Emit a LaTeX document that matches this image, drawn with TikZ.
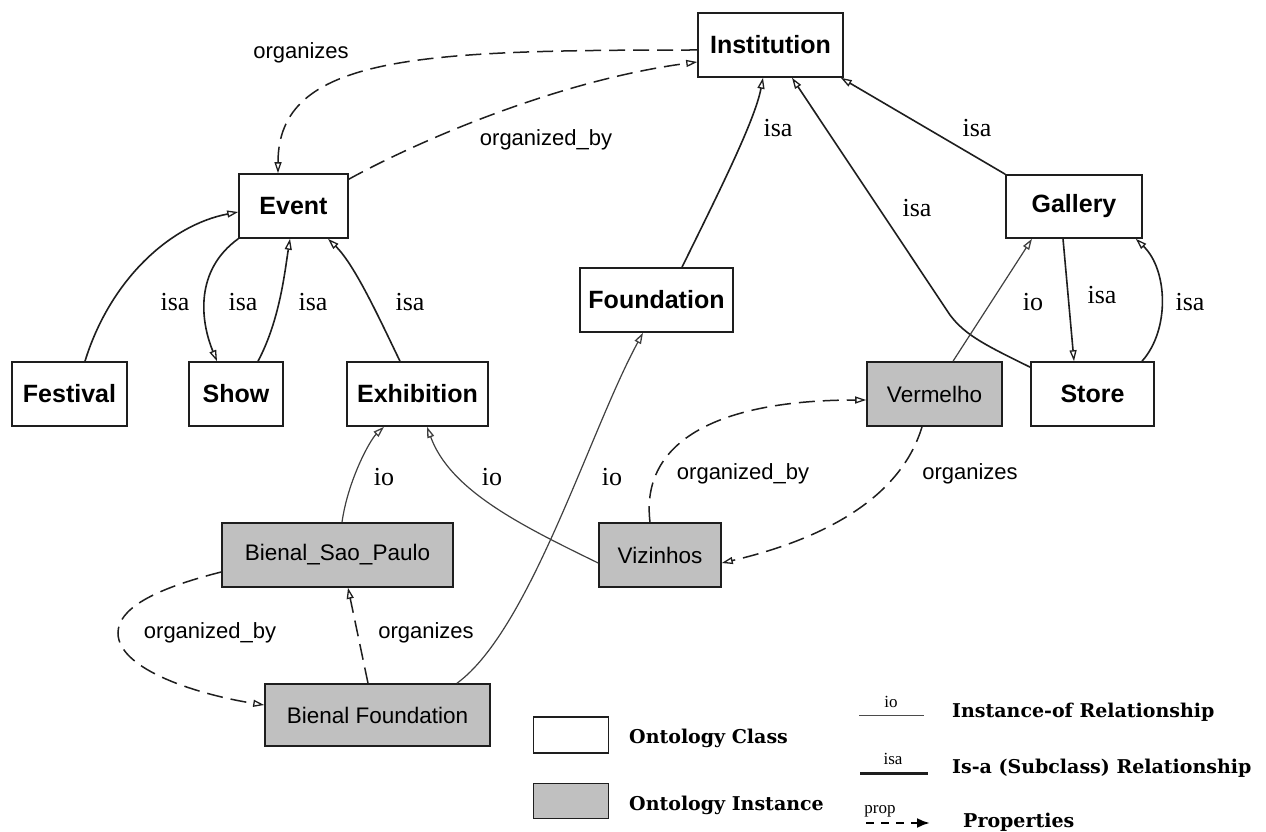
\documentclass[tikz,border=0pt]{standalone}
\usepackage{fontspec}
\setmainfont{Liberation Sans}
\newfontfamily\relfont{Liberation Serif}
\newfontfamily\legfont{DejaVu Serif}
\usetikzlibrary{arrows.meta}
\definecolor{instgray}{RGB}{192,192,192}
\definecolor{lineblack}{RGB}{30,30,30}
\tikzset{
  cls/.style={draw=lineblack, line width=1.6pt, fill=white, inner sep=0pt,
    font=\fontsize{25}{30}\selectfont\bfseries},
  inst/.style={draw=lineblack, line width=1.6pt, fill=instgray, inner sep=0pt,
    font=\fontsize{22.5}{27}\selectfont},
  rel/.style={font=\relfont\fontsize{26}{30}\selectfont, inner sep=1pt},
  prp/.style={font=\fontsize{22}{26}\selectfont, inner sep=1pt},
  tip/.style={-{Triangle[open,length=11pt,width=7pt,line width=1.3pt]}},
  isaedge/.style={tip, draw=lineblack, line width=1.6pt},
  ioedge/.style={tip, draw=lineblack!85, line width=1.2pt},
  propedge/.style={tip, draw=lineblack, line width=1.5pt, dash pattern=on 16pt off 8pt},
  legtext/.style={anchor=west, inner sep=0pt, font=\legfont\bfseries\fontsize{19}{22}\selectfont},
  legrel/.style={inner sep=0pt, font=\relfont\fontsize{17}{19}\selectfont},
}
\begin{document}
\begin{tikzpicture}[x=1pt,y=-1pt]
\path[use as bounding box, fill=white] (0,0) rectangle (1266,832);

% class nodes
\node[cls, minimum width=145pt, minimum height=64pt] (inst) at (770.5,45) {Institution};
\node[cls, minimum width=109pt, minimum height=64pt] (event) at (293.5,206) {Event};
\node[cls, minimum width=153pt, minimum height=64pt] (found) at (656.5,300) {Foundation};
\node[cls, minimum width=136pt, minimum height=63pt] (gall) at (1074,206.5) {Gallery};
\node[cls, minimum width=115pt, minimum height=64pt] (fest) at (69.5,394) {Festival};
\node[cls, minimum width=94pt, minimum height=64pt] (show) at (236,394) {Show};
\node[cls, minimum width=141pt, minimum height=64pt] (exhib) at (417.5,394) {Exhibition};
\node[cls, minimum width=123pt, minimum height=64pt] (store) at (1092.5,394) {Store};

% instance nodes
\node[inst, minimum width=135pt, minimum height=64pt] (verm) at (934.5,394) {Vermelho};
\node[inst, minimum width=231pt, minimum height=64pt] (bsp) at (337.5,555) {Bienal\_Sao\_Paulo};
\node[inst, minimum width=122pt, minimum height=64pt] (viz) at (660,555) {Vizinhos};
\node[inst, minimum width=225pt, minimum height=62pt] (bf) at (377.5,715) {Bienal Foundation};

% properties Institution <-> Event
\draw[propedge] ([yshift=-5pt]inst.west) .. controls (420,50) and (278,55) .. ([xshift=-15.5pt]event.north);
\draw[propedge] ([yshift=-6pt]event.north east) .. controls (420,140) and (560,80) .. ([yshift=-17pt]inst.west);

% isa edges to Event
\draw[isaedge] ([xshift=15.5pt]fest.north) .. controls (110,280) and (170,225) .. ([yshift=-6pt]event.west);
\draw[isaedge] (event.south west) .. controls (195,270) and (200,320) .. ([xshift=-19pt]show.north);
\draw[isaedge] ([xshift=22pt]show.north) .. controls (280,320) and (285,270) .. ([xshift=-3.5pt]event.south);
\draw[isaedge] ([xshift=-17.5pt]exhib.north) .. controls (380,320) and (355,265) .. ([xshift=34.5pt]event.south);

% isa edges to Institution
\draw[isaedge] ([xshift=25.5pt]found.north) .. controls (720,190) and (755,120) .. ([xshift=-7.5pt]inst.south);
\draw[isaedge] ([yshift=-6pt]store.north west) .. controls (985,345) and (965,335) .. (950,315) -- ([xshift=21.5pt]inst.south);
\draw[isaedge] (gall.north west) -- ([xshift=-3pt]inst.south east);

% Gallery <-> Store
\draw[isaedge] ([xshift=-11pt]gall.south) -- ([xshift=-18.5pt]store.north);
\draw[isaedge] ([xshift=49.5pt]store.north) .. controls (1170,330) and (1168,270) .. ([xshift=-7pt]gall.south east);

% io edges
\draw[ioedge] ([xshift=18.5pt]verm.north) -- ([xshift=-42pt]gall.south);
\draw[ioedge] ([xshift=4.5pt]bsp.north) .. controls (348,480) and (370,440) .. ([xshift=-33.5pt]exhib.south);
\draw[ioedge] ([yshift=-8pt]viz.west) .. controls (520,525) and (450,490) .. ([xshift=9.5pt]exhib.south);
\draw[ioedge] ([xshift=79.5pt]bf.north) .. controls (530,630) and (590,430) .. ([xshift=-13.5pt]found.south);

% property edges among instances
\draw[propedge] ([yshift=-17pt]bsp.west) .. controls (150,590) and (118,610) .. (118,633) .. controls (118,670) and (200,695) .. ([yshift=10pt]bf.west);
\draw[propedge] ([xshift=-9.5pt]bf.north) -- ([xshift=10.5pt]bsp.south);
\draw[propedge] ([xshift=-10pt]viz.north) .. controls (640,440) and (720,400) .. ([yshift=-6pt]verm.west);
\draw[propedge] ([xshift=-12.5pt]verm.south) .. controls (900,500) and (820,540) .. ([yshift=-8pt]viz.east);

% edge labels
\node[prp] (l1) at (301,53) {organizes};
\node[prp] (l2) at (546,140) {organized\_by};
\node[rel] (l3) at (175,302) {isa};
\node[rel] (l4) at (243,302) {isa};
\node[rel] (l5) at (313,302) {isa};
\node[rel] (l6) at (410,302) {isa};
\node[rel] (l7) at (778,128) {isa};
\node[rel] (l8) at (977,128) {isa};
\node[rel] (l9) at (917,208) {isa};
\node[rel] (l10) at (1102,295) {isa};
\node[rel] (l11) at (1190,302) {isa};
\node[rel] (l12) at (1033,302) {io};
\node[rel] (l13) at (384,477) {io};
\node[rel] (l14) at (492,477) {io};
\node[rel] (l15) at (612,477) {io};
\node[prp] (l16) at (210,633) {organized\_by};
\node[prp] (l17) at (426,633) {organizes};
\node[prp] (l18) at (743,474) {organized\_by};
\node[prp] (l19) at (970,474) {organizes};

% legend
\node[draw=lineblack, line width=1.6pt, fill=white, minimum width=75pt, minimum height=36pt, inner sep=0pt] (legcls) at (571,735) {};
\node[draw=lineblack, line width=1.6pt, fill=instgray, minimum width=75pt, minimum height=35pt, inner sep=0pt] (leginst) at (571,801) {};
\node[legtext] (tcls) at (629,738) {Ontology Class};
\node[legtext] (tinst) at (629,805) {Ontology Instance};

\coordinate (ioa) at (859,715); \coordinate (iob) at (924,715);
\draw[line width=1pt, draw=lineblack!80] (ioa) -- (iob);
\node[legrel] (lio) at (891,702) {io};
\coordinate (isaa) at (860,773); \coordinate (isab) at (928,773);
\draw[line width=3pt, draw=lineblack] (isaa) -- (isab);
\node[legrel] (lisa) at (893,759) {isa};
\coordinate (pra) at (866,823); \coordinate (prb) at (930,823);
\draw[line width=2.4pt, dash pattern=on 8pt off 7pt, -{Latex[length=13pt,width=10pt]}] (pra) -- (prb);
\node[legrel] (lprop) at (880,811) {prop};

\node[legtext] (tio) at (952,712) {Instance-of Relationship};
\node[legtext] (tisa) at (952,768) {Is-a (Subclass) Relationship};
\node[legtext] (tprop) at (963,822) {Properties};
\end{tikzpicture}
\end{document}
